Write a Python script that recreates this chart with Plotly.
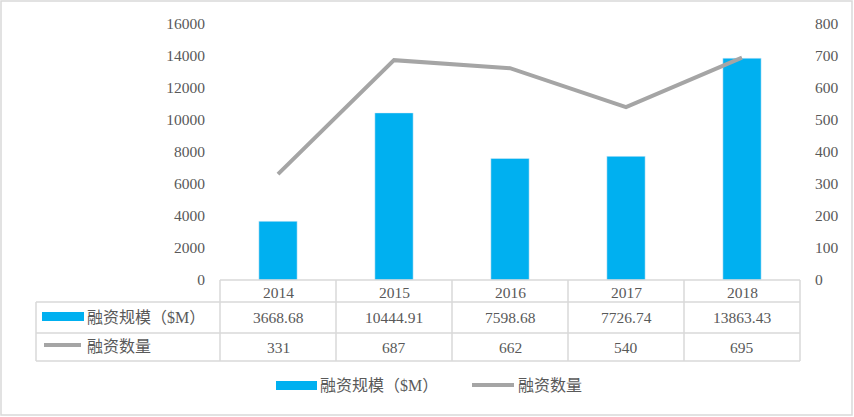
import plotly.graph_objects as go

years = ["2014", "2015", "2016", "2017", "2018"]
scale_m = [3668.68, 10444.91, 7598.68, 7726.74, 13863.43]
counts = [331, 687, 662, 540, 695]
scale_txt = ["3668.68", "10444.91", "7598.68", "7726.74", "13863.43"]
count_txt = ["331", "687", "662", "540", "695"]
name_bar = "融资规模（$M）"
name_line = "融资数量"
left_ticks = [0, 2000, 4000, 6000, 8000, 10000, 12000, 14000, 16000]
right_ticks = [0, 100, 200, 300, 400, 500, 600, 700, 800]

W, H = 854, 417
L, R, T, B = 220, 800, 24, 280
BLUE = "#00B0F0"
GREY = "#A5A5A5"
GRID = "#D9D9D9"
TXT = "#595959"
FONT = "Liberation Serif, Noto Sans CJK SC, serif"


def px(x):
    return (x - L) / (R - L)


def py(y):
    return (B - y) / (B - T)


fig = go.Figure()
fig.add_trace(go.Bar(x=years, y=scale_m, name=name_bar, marker_color=BLUE,
                     width=0.33, showlegend=False, hoverinfo="skip"))
fig.add_trace(go.Scatter(x=years, y=counts, name=name_line, yaxis="y2", mode="lines",
                         line=dict(color=GREY, width=4), showlegend=False, hoverinfo="skip"))

shapes = []
shapes.append(dict(type="rect", xref="paper", yref="paper", x0=px(1), x1=px(852), y0=py(1), y1=py(415),
                   line=dict(color=GRID, width=1.5), fillcolor="rgba(0,0,0,0)", layer="below"))
for xv in [220, 336, 452, 568, 684, 800]:
    shapes.append(dict(type="line", xref="paper", yref="paper", x0=px(xv), x1=px(xv), y0=py(280), y1=py(361),
                       line=dict(color=GRID, width=1.5)))
shapes.append(dict(type="line", xref="paper", yref="paper", x0=px(36), x1=px(36), y0=py(302), y1=py(361),
                   line=dict(color=GRID, width=1.5)))
shapes.append(dict(type="line", xref="paper", yref="paper", x0=px(220), x1=px(800), y0=py(280), y1=py(280),
                   line=dict(color=GRID, width=1.5)))
for yv in [302, 333, 361]:
    shapes.append(dict(type="line", xref="paper", yref="paper", x0=px(36), x1=px(800), y0=py(yv), y1=py(yv),
                       line=dict(color=GRID, width=1.5)))
shapes.append(dict(type="rect", xref="paper", yref="paper", x0=px(42), x1=px(84), y0=py(312), y1=py(321),
                   fillcolor=BLUE, line=dict(width=0)))
shapes.append(dict(type="line", xref="paper", yref="paper", x0=px(44), x1=px(81), y0=py(345), y1=py(345),
                   line=dict(color=GREY, width=4)))
shapes.append(dict(type="rect", xref="paper", yref="paper", x0=px(276), x1=px(317), y0=py(381), y1=py(390),
                   fillcolor=BLUE, line=dict(width=0)))
shapes.append(dict(type="line", xref="paper", yref="paper", x0=px(472), x1=px(514), y0=py(385), y1=py(385),
                   line=dict(color=GREY, width=4)))

ann = []
fn = dict(family=FONT, size=15.5, color=TXT)
fc = dict(family=FONT, size=16, color=TXT)
for i, yr in enumerate(years):
    ann.append(dict(x=i, xref="x", y=py(292), yref="paper", text=yr, showarrow=False, font=fn,
                    yanchor="middle"))
    ann.append(dict(x=i, xref="x", y=py(317), yref="paper", text=scale_txt[i], showarrow=False, font=fn,
                    yanchor="middle"))
    ann.append(dict(x=i, xref="x", y=py(347), yref="paper", text=count_txt[i], showarrow=False, font=fn,
                    yanchor="middle"))
ann.append(dict(x=px(85), xref="paper", y=py(317), yref="paper", text=name_bar, showarrow=False,
                xanchor="left", yanchor="middle", font=fc))
ann.append(dict(x=px(85), xref="paper", y=py(346), yref="paper", text=name_line, showarrow=False,
                xanchor="left", yanchor="middle", font=fc))
ann.append(dict(x=px(318), xref="paper", y=py(385), yref="paper", text=name_bar, showarrow=False,
                xanchor="left", yanchor="middle", font=fc))
ann.append(dict(x=px(516), xref="paper", y=py(385), yref="paper", text=name_line, showarrow=False,
                xanchor="left", yanchor="middle", font=fc))

fig.update_layout(
    width=W, height=H,
    margin=dict(l=L, r=W - R, t=T, b=H - B),
    paper_bgcolor="white", plot_bgcolor="white",
    font=fn,
    xaxis=dict(type="category", range=[-0.5, 4.5], showticklabels=False, showgrid=False,
               zeroline=False, showline=False, ticks=""),
    yaxis=dict(range=[0, 16000], tickvals=left_ticks, tickformat="d", showgrid=False, zeroline=False,
               showline=False, ticks="", tickfont=fn, ticklabelstandoff=14),
    yaxis2=dict(range=[0, 800], tickvals=right_ticks, tickformat="d", overlaying="y", side="right",
                showgrid=False, zeroline=False, showline=False, ticks="", tickfont=fn,
                ticklabelstandoff=14),
    shapes=shapes, annotations=ann, showlegend=False, bargap=0.67,
)
fig.write_html("out.html", config={"displayModeBar": False},
               post_script="document.body.style.margin='0';")
